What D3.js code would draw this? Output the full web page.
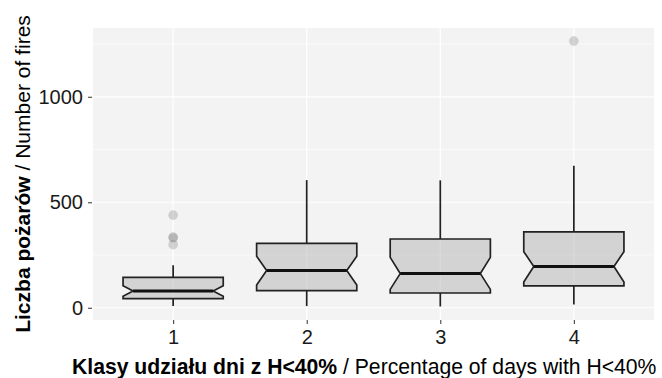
<!DOCTYPE html>
<html>
<head>
<meta charset="utf-8">
<script src="https://cdn.jsdelivr.net/npm/d3@7"></script>
<style>
  html, body { margin: 0; padding: 0; background: #ffffff; }
  svg { display: block; font-family: "Liberation Sans", Arial, sans-serif; }
</style>
</head>
<body>
<svg id="chart" width="662" height="378"></svg>
<script>
// ---- data ----
const categories = ["1", "2", "3", "4"];
const whiskerLow  = [8, 8, 6, 16];
const q1          = [43, 81, 70, 104];
const median      = [79, 177, 162, 196];
const q3          = [144, 305, 326, 360];
const whiskerHigh = [201, 605, 604, 673];
const notchLow    = [55, 108, 87, 122];
const notchHigh   = [104, 244, 239, 266];
const outliers    = [[439, 335, 331, 299], [], [], [1264]];
const yTicks      = [0, 500, 1000];
const yMinorTicks = [250, 750, 1250];
const yTickLabels = ["0", "500", "1000"];

// ---- layout ----
const svg = d3.select("#chart");
const panel = { left: 93, right: 654, top: 28, bottom: 320 };

const x = d3.scaleLinear().domain([0.4, 4.6]).range([panel.left, panel.right]);
const y = d3.scaleLinear().domain([-58, 1326]).range([panel.bottom, panel.top]);
const boxWidth = 0.75;
const notchFrac = 0.8;

svg.append("rect")
  .attr("x", panel.left).attr("y", panel.top)
  .attr("width", panel.right - panel.left).attr("height", panel.bottom - panel.top)
  .attr("fill", "#f3f3f3");

const grid = svg.append("g");
grid.selectAll(".minor").data(yMinorTicks).join("line")
  .attr("x1", panel.left).attr("x2", panel.right)
  .attr("y1", d => y(d)).attr("y2", d => y(d))
  .attr("stroke", "#ffffff").attr("stroke-width", 0.6);
grid.selectAll(".major").data(yTicks).join("line")
  .attr("x1", panel.left).attr("x2", panel.right)
  .attr("y1", d => y(d)).attr("y2", d => y(d))
  .attr("stroke", "#ffffff").attr("stroke-width", 1.2);
grid.selectAll(".vmajor").data(categories).join("line")
  .attr("x1", (d, i) => x(i + 1)).attr("x2", (d, i) => x(i + 1))
  .attr("y1", panel.top).attr("y2", panel.bottom)
  .attr("stroke", "#ffffff").attr("stroke-width", 1.2);

const boxes = svg.append("g");
categories.forEach((c, i) => {
  const cx = i + 1;
  const hw = boxWidth / 2;
  const nw = hw * notchFrac;
  boxes.append("line")
    .attr("x1", x(cx)).attr("x2", x(cx))
    .attr("y1", y(q3[i])).attr("y2", y(whiskerHigh[i]))
    .attr("stroke", "#222").attr("stroke-width", 1.7);
  boxes.append("line")
    .attr("x1", x(cx)).attr("x2", x(cx))
    .attr("y1", y(q1[i])).attr("y2", y(whiskerLow[i]))
    .attr("stroke", "#222").attr("stroke-width", 1.7);
  const pts = [
    [cx - hw, q3[i]], [cx + hw, q3[i]], [cx + hw, notchHigh[i]],
    [cx + nw, median[i]], [cx + hw, notchLow[i]], [cx + hw, q1[i]],
    [cx - hw, q1[i]], [cx - hw, notchLow[i]], [cx - nw, median[i]],
    [cx - hw, notchHigh[i]]
  ];
  boxes.append("path")
    .attr("d", d3.line().x(p => x(p[0])).y(p => y(p[1]))(pts) + "Z")
    .attr("fill", "#a6a6a6").attr("fill-opacity", 0.42)
    .attr("stroke", "#222").attr("stroke-width", 1.7)
    .attr("stroke-linejoin", "miter");
  boxes.append("line")
    .attr("x1", x(cx - nw)).attr("x2", x(cx + nw))
    .attr("y1", y(median[i])).attr("y2", y(median[i]))
    .attr("stroke", "#111").attr("stroke-width", 3);
  boxes.selectAll(null).data(outliers[i]).join("circle")
    .attr("cx", x(cx)).attr("cy", d => y(d)).attr("r", 4.8)
    .attr("fill", "#7a7a7a").attr("fill-opacity", 0.3);
});

const tickFont = 20;
const yAxis = d3.axisLeft(y).tickValues(yTicks).tickFormat((d, i) => yTickLabels[i])
  .tickSize(4).tickPadding(5);
const gy = svg.append("g").attr("transform", `translate(${panel.left - 1},0)`).call(yAxis);
gy.select(".domain").remove();
gy.selectAll(".tick line").attr("stroke", "#444").attr("stroke-width", 1.1);
gy.selectAll(".tick text").attr("font-size", tickFont).attr("fill", "#1a1a1a")
  .attr("font-family", "Liberation Sans, Arial, sans-serif");

const xAxis = d3.axisBottom(x).tickValues([1, 2, 3, 4]).tickFormat((d, i) => categories[i])
  .tickSize(4).tickPadding(6);
const gx = svg.append("g").attr("transform", `translate(0,${panel.bottom})`).call(xAxis);
gx.select(".domain").remove();
gx.selectAll(".tick line").attr("stroke", "#444").attr("stroke-width", 1.1);
gx.selectAll(".tick text").attr("font-size", tickFont).attr("fill", "#1a1a1a")
  .attr("font-family", "Liberation Sans, Arial, sans-serif");

function fit(textSel, target) {
  const w = textSel.node().getComputedTextLength();
  textSel.attr("font-size", 21 * target / w);
}
const xt = svg.append("text")
  .attr("x", 72).attr("y", 374)
  .attr("text-anchor", "start").attr("font-size", 21).attr("fill", "#000");
xt.append("tspan").attr("font-weight", "bold").text("Klasy udziału dni z H<40%");
xt.append("tspan").text(" / Percentage of days with H<40%");
fit(xt, 585);

const yt = svg.append("text")
  .attr("transform", `translate(30,${(panel.top + panel.bottom) / 2}) rotate(-90)`)
  .attr("text-anchor", "middle").attr("font-size", 21).attr("fill", "#000");
yt.append("tspan").attr("font-weight", "bold").text("Liczba pożarów");
yt.append("tspan").text(" / Number of fires");
fit(yt, 318);
</script>
</body>
</html>
